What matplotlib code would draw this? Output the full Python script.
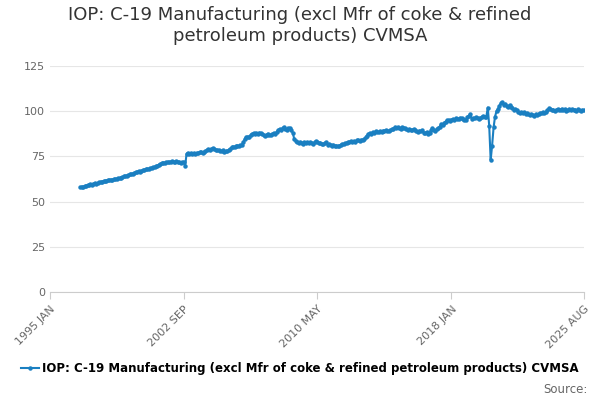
import matplotlib
matplotlib.use("Agg")
import matplotlib.pyplot as plt
import numpy as np
import pandas as pd

# monthly values, series starts 1996 OCT
v1996 = [58.0, 58.3, 58.1]
v1997 = [58.5, 58.9, 59.0, 59.3, 59.6, 59.4, 59.9, 60.2, 60.0, 60.4, 60.7, 61.0]
v1998 = [61.1, 61.4, 61.3, 61.6, 61.9, 62.0, 62.2, 62.1, 62.4, 62.5, 62.7, 62.9]
v1999 = [63.0, 63.3, 63.6, 63.9, 64.1, 64.4, 64.8, 65.0, 65.3, 65.5, 65.9, 66.3]
v2000 = [66.4, 66.8, 66.6, 67.1, 67.4, 67.6, 67.9, 68.2, 68.0, 68.5, 68.8, 69.0]
v2001 = [69.2, 69.5, 69.9, 70.3, 70.8, 71.4, 71.6, 71.5, 71.8, 72.0, 71.7, 72.1]
v2002 = [72.3, 72.0, 71.8, 72.2, 72.0, 71.9, 71.5, 71.7, 72.1, 69.5, 76.5, 77.0]
v2003 = [76.3, 76.9, 76.5, 76.8, 76.2, 77.0, 76.7, 77.3, 77.6, 77.1, 77.5, 78.0]
v2004 = [78.5, 79.0, 78.6, 79.2, 79.4, 79.0, 78.7, 78.3, 78.5, 78.1, 77.8, 78.3]
v2005 = [77.6, 78.0, 77.9, 78.5, 79.2, 80.0, 80.4, 80.1, 80.8, 81.0, 80.6, 81.2]
v2006 = [81.5, 83.0, 84.5, 85.8, 86.0, 85.5, 86.8, 87.5, 87.9, 87.4, 88.0, 87.6]
v2007 = [88.2, 87.8, 87.3, 86.9, 86.5, 87.1, 87.6, 87.0, 86.8, 87.5, 88.0, 87.4]
v2008 = [88.6, 89.5, 90.2, 89.8, 90.6, 91.0, 90.4, 89.8, 90.5, 90.8, 89.6, 88.0]
v2009 = [84.5, 83.5, 83.0, 82.6, 83.1, 82.4, 82.0, 82.7, 82.3, 82.9, 82.5, 83.0]
v2010 = [82.6, 82.1, 82.8, 83.3, 82.7, 82.2, 82.6, 82.0, 81.7, 82.3, 82.9, 81.5]
v2011 = [82.0, 81.2, 80.8, 81.5, 80.5, 81.0, 80.6, 80.9, 81.4, 82.0, 81.6, 82.3]
v2012 = [82.6, 83.0, 82.8, 83.4, 82.9, 83.5, 83.2, 83.8, 84.0, 83.6, 84.3, 84.1]
v2013 = [84.8, 85.5, 86.2, 87.4, 88.0, 87.6, 88.5, 88.2, 88.9, 88.6, 88.3, 89.0]
v2014 = [88.7, 89.3, 88.9, 89.5, 89.2, 88.8, 89.6, 89.9, 90.4, 91.0, 90.6, 91.3]
v2015 = [90.8, 90.3, 91.0, 90.5, 90.9, 90.1, 89.7, 90.2, 89.8, 89.4, 90.0, 89.5]
v2016 = [89.1, 88.6, 89.3, 88.9, 89.6, 88.2, 87.8, 88.4, 87.2, 88.0, 89.5, 90.5]
v2017 = [89.8, 89.2, 90.0, 90.6, 91.5, 93.0, 92.6, 93.5, 94.3, 94.9, 95.2, 94.8]
v2018 = [95.3, 95.7, 95.1, 96.0, 95.5, 95.8, 96.4, 96.2, 95.6, 95.0, 95.4, 96.8]
v2019 = [97.5, 98.2, 95.8, 96.3, 96.0, 96.6, 96.1, 95.7, 96.3, 96.9, 97.4, 97.0]
v2020 = [97.0, 102.0, 92.0, 73.0, 81.0, 91.0, 97.0, 100.0, 101.0, 103.0, 104.5, 105.0]
v2021 = [103.6, 104.2, 103.0, 102.5, 103.4, 102.1, 101.6, 100.8, 101.3, 100.5, 99.8, 99.2]
v2022 = [99.6, 98.8, 99.3, 98.6, 99.1, 98.2, 97.9, 98.5, 98.0, 97.6, 98.3, 97.8]
v2023 = [98.6, 99.2, 98.8, 99.5, 99.1, 99.8, 100.4, 101.6, 101.2, 100.6, 100.9, 100.3]
v2024 = [100.7, 101.2, 100.5, 100.9, 101.4, 100.6, 101.0, 100.2, 100.8, 101.3, 100.4, 101.0]
v2025 = [100.5, 100.9, 100.2, 101.1, 100.6, 100.3, 100.8, 100.5]

values = (v1996 + v1997 + v1998 + v1999 + v2000 + v2001 + v2002 + v2003 + v2004
          + v2005 + v2006 + v2007 + v2008 + v2009 + v2010 + v2011 + v2012 + v2013
          + v2014 + v2015 + v2016 + v2017 + v2018 + v2019 + v2020 + v2021 + v2022
          + v2023 + v2024 + v2025)
dates = pd.date_range("1996-10-01", periods=len(values), freq="MS")

tick_dates = pd.to_datetime(["1995-01-01", "2002-09-01", "2010-05-01", "2018-01-01", "2025-08-01"])
tick_labels = ["1995 JAN", "2002 SEP", "2010 MAY", "2018 JAN", "2025 AUG"]

title = "IOP: C-19 Manufacturing (excl Mfr of coke & refined\npetroleum products) CVMSA"
series_name = "IOP: C-19 Manufacturing (excl Mfr of coke & refined petroleum products) CVMSA"

col = "#1a7fc1"
fig = plt.figure(figsize=(6, 4), dpi=100)
ax = fig.add_axes([0.083, 0.27, 0.89, 0.565])
ax.plot(dates, values, color=col, lw=1.5, marker="o", ms=2.2, label=series_name)
ax.set_ylim(0, 125)
ax.set_yticks([0, 25, 50, 75, 100, 125])
ax.set_xlim(tick_dates[0], tick_dates[-1])
ax.set_xticks(tick_dates)
ax.set_xticklabels(tick_labels, rotation=45, ha="right", rotation_mode="anchor")
ax.tick_params(colors="#666666", labelsize=8, length=0)
ax.tick_params(axis="x", length=5, color="#cccccc")
ax.grid(axis="y", color="#e6e6e6", lw=0.8)
for s in ["top", "right", "left"]:
    ax.spines[s].set_visible(False)
ax.spines["bottom"].set_color("#cccccc")
ax.set_axisbelow(True)

fig.suptitle(title, fontsize=13, color="#333333", y=0.985)
fig.legend(loc="lower center", bbox_to_anchor=(0.5, 0.035), frameon=False,
           fontsize=8.5, handlelength=1.5, handletextpad=0.3,
           prop={"weight": "bold", "size": 8.5})
fig.text(0.98, 0.01, "Source:", ha="right", va="bottom", fontsize=8.5, color="#666666")
fig.savefig("out.png")
